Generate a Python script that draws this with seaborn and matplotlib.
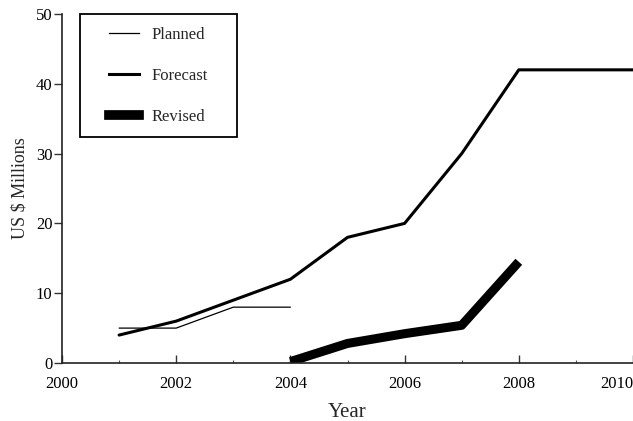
import matplotlib
matplotlib.use("Agg")
import matplotlib.pyplot as plt
import seaborn as sns
import pandas as pd
from matplotlib.ticker import MultipleLocator
from matplotlib.patches import Rectangle

# --- data ---
planned_years = [2001, 2002, 2003, 2004]
planned_vals = [5, 5, 8, 8]

forecast_years = [2001, 2002, 2003, 2004, 2005, 2006, 2007, 2008, 2010]
forecast_vals = [4, 6, 9, 12, 18, 20, 30, 42, 42]

revised_years = [2004, 2005, 2006, 2007, 2008]
revised_vals = [0.2, 2.8, 4.2, 5.4, 14.5]

x_ticks = [2000, 2002, 2004, 2006, 2008, 2010]
y_ticks = [0, 10, 20, 30, 40, 50]

sns.set_style("ticks")
plt.rcParams['font.family'] = ['Liberation Serif', 'DejaVu Serif']
plt.rcParams['font.size'] = 12

fig = plt.figure(figsize=(6.33, 4.21), dpi=100)
# axes box in pixels: left 62, right 633, top 14, bottom 363
ax = fig.add_axes([62 / 633, 58 / 421, 571 / 633, 349 / 421])

df_p = pd.DataFrame({'Year': planned_years, 'Value': planned_vals})
df_f = pd.DataFrame({'Year': forecast_years, 'Value': forecast_vals})
df_r = pd.DataFrame({'Year': revised_years, 'Value': revised_vals})

sns.lineplot(data=df_p, x='Year', y='Value', color='black', linewidth=0.9,
             label='Planned', ax=ax)
sns.lineplot(data=df_f, x='Year', y='Value', color='black', linewidth=2.2,
             label='Forecast', ax=ax)
sns.lineplot(data=df_r, x='Year', y='Value', color='black', linewidth=6.5,
             label='Revised', ax=ax, solid_capstyle='butt')

ax.set_xlim(2000, 2010)
ax.set_ylim(0, 50)
ax.set_xticks(x_ticks)
ax.set_xticklabels([str(t) for t in x_ticks])
ax.xaxis.set_minor_locator(MultipleLocator(1))
ax.set_yticks(y_ticks)

ax.tick_params(axis='x', which='major', direction='in', length=6, width=1,
               colors='#333333', labelcolor='black', labelsize=12, pad=9)
ax.tick_params(axis='x', which='minor', direction='in', length=2.5, width=0.8,
               colors='#555555')
ax.tick_params(axis='y', which='major', direction='out', length=6, width=1,
               colors='#333333', labelcolor='black', labelsize=12, pad=1)

for s in ['top', 'right']:
    ax.spines[s].set_visible(False)
for s in ['left', 'bottom']:
    ax.spines[s].set_linewidth(1.2)
    ax.spines[s].set_color('#222222')

ax.set_xlabel('Year', fontsize=15, labelpad=8)
ax.set_ylabel('US $ Millions', fontsize=13, labelpad=5)

# last tick label sits at the figure edge
ax.get_xticklabels()[-1].set_horizontalalignment('right')

# legend without its own frame, boxed separately so the inner margins match
leg = ax.legend(loc='upper left', bbox_to_anchor=((109 - 62) / 571, (363 - 27) / 349),
                frameon=False, handlelength=1.8, handletextpad=0.75,
                labelspacing=1.5, borderpad=0, borderaxespad=0, fontsize=12)
for h in leg.get_lines():
    h.set_solid_capstyle('projecting')
leg.get_lines()[2].set_linewidth(7)

ax.add_patch(Rectangle((18 / 571, (363 - 137) / 349), 157 / 571, 123 / 349,
                       transform=ax.transAxes, fill=False, lw=1.3,
                       edgecolor='black', clip_on=False, zorder=5))

fig.savefig('out.png', dpi=100)
